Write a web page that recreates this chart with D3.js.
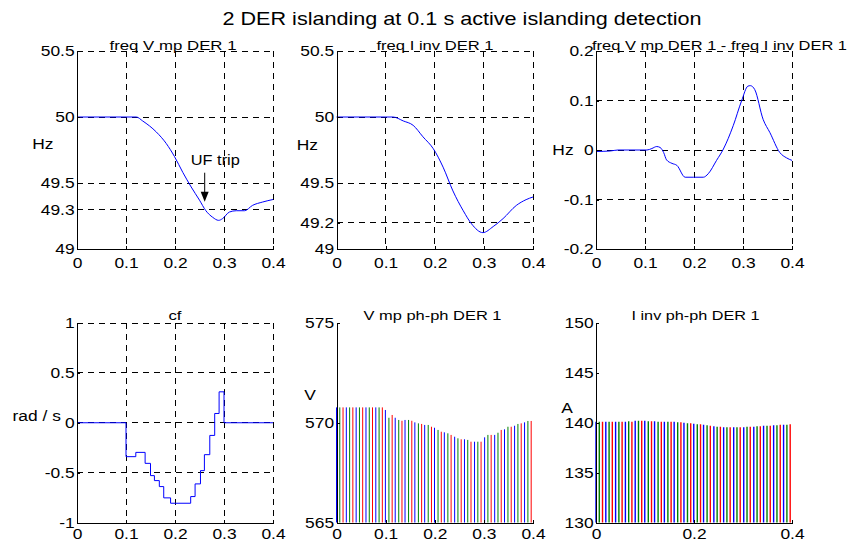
<!DOCTYPE html>
<html>
<head>
<meta charset="utf-8">
<title>2 DER islanding at 0.1 s active islanding detection</title>
<script src="https://d3js.org/d3.v7.min.js"></script>
<style>
  body { margin: 0; background: #fff; }
  svg { font-family: "Liberation Sans", Arial, Helvetica, sans-serif; }
  .grid line { stroke: #000; stroke-width: 1; stroke-dasharray: 6,5; shape-rendering: crispEdges; }
  .axis path, .axis line { stroke: #000; stroke-width: 1; shape-rendering: crispEdges; }
  .axis text { fill: #000; }
  .curve { fill: none; stroke: #0000ff; stroke-width: 1; }
</style>
</head>
<body>
<div id="chart"></div>
<script>
// ---- data ----
const timeTicks = [0, 0.1, 0.2, 0.3, 0.4];
const timeTicksCoarse = [0, 0.2, 0.4];

// freq V mp DER 1 (Hz)
const freqVmpT = [0, 0.121, 0.134, 0.162, 0.182, 0.199, 0.216, 0.233, 0.25, 0.263, 0.277, 0.289, 0.297, 0.311, 0.325, 0.342, 0.358, 0.379, 0.4];
const freqVmpV = [50, 50, 49.97, 49.886, 49.80, 49.70, 49.58, 49.47, 49.37, 49.29, 49.24, 49.217, 49.23, 49.28, 49.29, 49.29, 49.33, 49.356, 49.375];
const freqTicks1 = [49, 49.3, 49.5, 50, 50.5];

// freq I inv DER 1 (Hz)
const freqIinvT = [0, 0.115, 0.136, 0.156, 0.176, 0.197, 0.217, 0.237, 0.258, 0.275, 0.298, 0.319, 0.339, 0.366, 0.386, 0.4];
const freqIinvV = [50, 50, 49.97, 49.937, 49.85, 49.76, 49.62, 49.44, 49.29, 49.19, 49.124, 49.17, 49.23, 49.33, 49.374, 49.394];
const freqTicks2 = [49, 49.2, 49.5, 50, 50.5];

// difference (Hz)
const diffT = [0, 0.029, 0.045, 0.104, 0.114, 0.124, 0.131, 0.138, 0.144, 0.155, 0.165, 0.182, 0.199, 0.219, 0.229, 0.246, 0.26, 0.28, 0.297, 0.31, 0.315, 0.324, 0.341, 0.355, 0.375, 0.389, 0.4];
const diffV = [-0.003, -0.002, 0, 0, 0.003, 0.007, 0.005, -0.005, -0.02, -0.027, -0.031, -0.055, -0.055, -0.055, -0.048, -0.021, 0.002, 0.049, 0.099, 0.129, 0.13, 0.122, 0.062, 0.035, -0.005, -0.016, -0.021];
const diffTicks = [-0.2, -0.1, 0, 0.1, 0.2];

// cf (rad/s), step values starting at each time
const cfT = [0, 0.1, 0.12, 0.139, 0.15, 0.158, 0.168, 0.177, 0.191, 0.232, 0.241, 0.252, 0.26, 0.271, 0.281, 0.29, 0.3, 0.4];
const cfV = [0, -0.34, -0.297, -0.407, -0.53, -0.58, -0.64, -0.753, -0.807, -0.74, -0.613, -0.48, -0.32, -0.127, 0.093, 0.31, 0, 0];
const cfTicks = [-1, -0.5, 0, 0.5, 1];

// peak instants of the three phase quantities (s)
const peakTA = [0, 0.02, 0.04, 0.06, 0.08, 0.0995, 0.1195, 0.1395, 0.1595, 0.1795, 0.1995, 0.2195, 0.2405, 0.2605, 0.281, 0.3015, 0.322, 0.342, 0.3625, 0.3828];
const peakTB = [0.0067, 0.0267, 0.0467, 0.0667, 0.0867, 0.1067, 0.1267, 0.1467, 0.1667, 0.1867, 0.2067, 0.2267, 0.2472, 0.2672, 0.2877, 0.3082, 0.3287, 0.349, 0.3693, 0.3896];
const peakTC = [0.0133, 0.0333, 0.0533, 0.0733, 0.0933, 0.1133, 0.1333, 0.1533, 0.1733, 0.1933, 0.2133, 0.2333, 0.2538, 0.2738, 0.2943, 0.3148, 0.3353, 0.3556, 0.376, 0.3963];

// V mp ph-ph DER 1 peaks (V)
const vPeakA = [570.77, 570.77, 570.77, 570.77, 570.77, 570.64, 570.25, 570.14, 570.02, 569.89, 569.75, 569.52, 569.30, 569.17, 569.05, 569.27, 569.39, 569.67, 569.85, 570.02];
const vPeakB = [570.77, 570.77, 570.77, 570.77, 570.77, 570.25, 570.14, 570.14, 569.97, 569.89, 569.64, 569.47, 569.22, 569.14, 569.05, 569.39, 569.50, 569.80, 569.94, 570.09];
const vPeakC = [570.77, 570.77, 570.77, 570.77, 570.77, 570.39, 570.10, 570.10, 569.94, 569.80, 569.55, 569.39, 569.17, 569.05, 569.05, 569.39, 569.64, 569.80, 569.97, 570.09];
const vTicks = [565, 570, 575];

// I inv ph-ph DER 1 peaks (A)
const iPeakA = [140.1, 140.1, 140.1, 140.1, 140.2, 140.2, 140.15, 140.1, 140.1, 140.0, 139.9, 139.8, 139.65, 139.55, 139.55, 139.55, 139.6, 139.7, 139.75, 139.8];
const iPeakB = [140.1, 140.1, 140.1, 140.15, 140.2, 140.15, 140.1, 140.1, 140.05, 139.95, 139.85, 139.75, 139.6, 139.55, 139.55, 139.6, 139.65, 139.7, 139.75, 139.8];
const iPeakC = [140.1, 140.1, 140.1, 140.1, 140.2, 140.15, 140.1, 140.1, 140.05, 139.95, 139.85, 139.7, 139.6, 139.55, 139.55, 139.6, 139.65, 139.7, 139.8, 139.85];
const iTicks = [130, 135, 140, 145, 150];

// UF trip annotation (data coords of plot 1)
const ufArrowT = 0.2606, ufArrowTop = 49.578, ufArrowTip = 49.358;
const ufTextT = 0.2823, ufTextY = 49.634;

const phaseColors = ['#0000ff', '#008000', '#ff0000'];

// ---- drawing ----
const svg = d3.select('#chart').append('svg').attr('width', 853).attr('height', 549);
const SX = 1.2;   // the reference text is stretched horizontally
const fmt = d => String(d);

function label(g, str, x, y, size, anchor, len) {
  const t = g.append('text').attr('font-size', size).attr('text-anchor', anchor || 'middle').text(str);
  if (len) {
    t.attr('x', x).attr('y', y).attr('textLength', len).attr('lengthAdjust', 'spacingAndGlyphs');
  } else {
    t.attr('transform', 'translate(' + x + ',' + y + ') scale(' + SX + ',1)');
  }
  return t;
}

function panel(p) {
  const g = svg.append('g').attr('transform', 'translate(' + p.left + ',' + p.top + ')');
  const x = d3.scaleLinear().domain([0, 0.4]).range([0, p.w]);
  const y = d3.scaleLinear().domain([p.yTicks[0], p.yTicks[p.yTicks.length - 1]]).range([p.h, 0]);

  if (p.grid) {
    const grid = g.append('g').attr('class', 'grid');
    grid.selectAll('line.h').data(p.yTicks.slice(1)).join('line').attr('class', 'h')
      .attr('x1', 0).attr('x2', p.w).attr('y1', d => y(d)).attr('y2', d => y(d));
    grid.selectAll('line.v').data(p.xTicks.slice(1)).join('line').attr('class', 'v')
      .attr('y1', 0).attr('y2', p.h).attr('x1', d => x(d)).attr('x2', d => x(d));
  }
  return { g, x, y, p };
}

function axes(P) {
  const { g, x, y, p } = P;
  g.append('g').attr('class', 'axis').attr('transform', 'translate(0,' + p.h + ')')
    .call(d3.axisBottom(x).tickValues(p.xTicks).tickFormat(fmt).tickSizeInner(-3).tickSizeOuter(0).tickPadding(p.xPad))
    .attr('font-size', null).attr('font-family', null)
    .call(a => a.selectAll('text').attr('font-size', 14.5).attr('transform', 'scale(' + SX + ',1)'));
  g.append('g').attr('class', 'axis')
    .call(d3.axisLeft(y).tickValues(p.yTicks).tickFormat(fmt).tickSizeInner(-3).tickSizeOuter(0).tickPadding(2))
    .attr('font-size', null).attr('font-family', null)
    .call(a => a.selectAll('text').attr('font-size', 14.5).attr('transform', 'scale(' + SX + ',1)'));
}

function curve(P, ts, vs, curveType) {
  const pts = ts.map((t, i) => [t, vs[i]]);
  P.g.append('path').attr('class', 'curve')
    .attr('d', d3.line().x(d => P.x(d[0])).y(d => P.y(d[1])).curve(curveType || d3.curveMonotoneX)(pts));
}

function phases(P, times, peaks, width) {
  const base = P.y.domain()[0];
  times.forEach((ts, k) => {
    P.g.append('g').selectAll('line').data(ts.map((t, i) => [t, peaks[k][i]])).join('line')
      .attr('x1', d => P.x(d[0])).attr('x2', d => P.x(d[0]))
      .attr('y1', P.y(base)).attr('y2', d => P.y(d[1]))
      .attr('stroke', phaseColors[k]).attr('stroke-width', width);
  });
}

// main title
label(svg, '2 DER islanding at 0.1 s active islanding detection', 462, 25, 18.5, 'middle', 479);

// panel 1
const P1 = panel({ left: 77, top: 51, w: 196, h: 198, xTicks: timeTicks, yTicks: freqTicks1, grid: true, xPad: 9 });
curve(P1, freqVmpT, freqVmpV);
axes(P1);
label(svg, 'freq V mp DER 1', 173, 50, 13, 'middle', 127);
label(svg, 'Hz', 42.8, 148.5, 14.5);
label(P1.g, 'UF trip', P1.x(ufTextT), P1.y(ufTextY), 14, 'middle', 49);
P1.g.append('line').attr('x1', P1.x(ufArrowT)).attr('x2', P1.x(ufArrowT))
  .attr('y1', P1.y(ufArrowTop)).attr('y2', P1.y(ufArrowTip) - 9).attr('stroke', '#000').attr('stroke-width', 1);
P1.g.append('path').attr('fill', '#000')
  .attr('d', 'M' + (P1.x(ufArrowT) - 4) + ',' + (P1.y(ufArrowTip) - 10) + 'L' + (P1.x(ufArrowT) + 4) + ',' + (P1.y(ufArrowTip) - 10) + 'L' + P1.x(ufArrowT) + ',' + P1.y(ufArrowTip) + 'Z');

// panel 2
const P2 = panel({ left: 336.5, top: 51, w: 196.5, h: 198, xTicks: timeTicks, yTicks: freqTicks2, grid: true, xPad: 9 });
curve(P2, freqIinvT, freqIinvV);
axes(P2);
label(svg, 'freq I inv DER 1', 435, 50, 13, 'middle', 117);
label(svg, 'Hz', 307.3, 149.5, 14.5);

// panel 3
const P3 = panel({ left: 596, top: 51, w: 196, h: 198, xTicks: timeTicks, yTicks: diffTicks, grid: true, xPad: 9 });
curve(P3, diffT, diffV);
axes(P3);
label(svg, 'freq V mp DER 1 - freq I inv DER 1', 592, 50, 13, 'start', 255);
label(svg, 'Hz', 563, 155, 14.5);

// panel 4
const P4 = panel({ left: 77, top: 323, w: 196, h: 199.5, xTicks: timeTicks, yTicks: cfTicks, grid: true, xPad: 6 });
curve(P4, cfT, cfV, d3.curveStepAfter);
axes(P4);
label(svg, 'cf', 175, 320, 13, 'middle', 13);
label(svg, 'rad / s', 36.7, 421, 14.5);

// panel 5
const P5 = panel({ left: 336.5, top: 323, w: 196.5, h: 199.5, xTicks: timeTicks, yTicks: vTicks, grid: false, xPad: 6 });
phases(P5, [peakTA, peakTB, peakTC], [vPeakA, vPeakB, vPeakC], 1);
axes(P5);
label(svg, 'V mp ph-ph DER 1', 432.5, 320, 13, 'middle', 138);
label(svg, 'V', 310, 400, 14.5);

// panel 6
const P6 = panel({ left: 596, top: 323, w: 196, h: 199.5, xTicks: timeTicksCoarse, yTicks: iTicks, grid: false, xPad: 6 });
phases(P6, [peakTA, peakTB, peakTC], [iPeakA, iPeakB, iPeakC], 1.4);
axes(P6);
label(svg, 'I inv ph-ph DER 1', 695.5, 320, 13, 'middle', 128);
label(svg, 'A', 567, 413, 14.5);
</script>
</body>
</html>
